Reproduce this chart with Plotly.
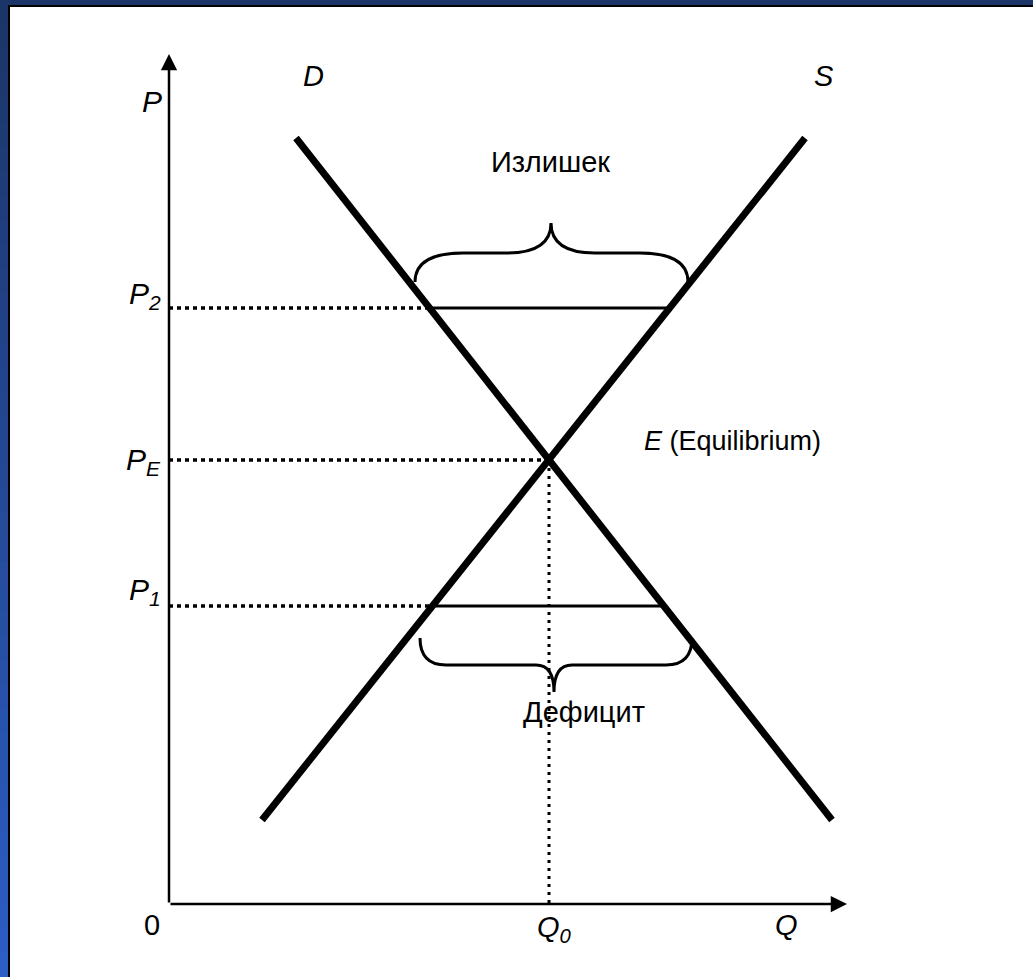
import plotly.graph_objects as go

# ── данные (условные единицы: Q — количество, P — цена) ─────────────
Q_MAX = 67.8          # конец оси Q (стрелка)
P_MAX = 85.0          # конец оси P (стрелка)

demand_q = [12.7, 66.3]
demand_p = [76.6, 8.4]
supply_q = [9.3, 63.6]
supply_p = [8.4, 76.6]

q0 = 38.0             # равновесное количество
pe = 44.4             # равновесная цена
p2 = 59.6             # цена выше равновесной
p1 = 29.8             # цена ниже равновесной

surplus_q = [26.1, 50.1]    # Qd, Qs при P2
shortage_q = [26.3, 49.6]   # Qs, Qd при P1

# фигурные скобки: левый край, правый край, острие, концы, средняя линия, вершина
surplus_brace = dict(q_left=24.6, q_right=51.9, q_tip=38.2, p_end=62.2, p_mid=65.1, p_tip=68.1)
shortage_brace = dict(q_left=25.1, q_right=52.3, q_tip=38.5, p_end=26.6, p_mid=23.9, p_tip=21.2)

FONT = 'Arial, "Liberation Sans", sans-serif'
BLACK = '#000000'

fig = go.Figure()

# кривые спроса и предложения
fig.add_trace(go.Scatter(x=demand_q, y=demand_p, mode='lines',
    line=dict(color=BLACK, width=7), hoverinfo='skip'))
fig.add_trace(go.Scatter(x=supply_q, y=supply_p, mode='lines',
    line=dict(color=BLACK, width=7), hoverinfo='skip'))

# пунктир к оси цены
for p, q_end in [(p2, surplus_q[0]), (pe, q0), (p1, shortage_q[0])]:
    fig.add_trace(go.Scatter(x=[0, q_end], y=[p, p], mode='lines',
        line=dict(color=BLACK, width=3.5, dash='4px,4px'), hoverinfo='skip'))
fig.add_trace(go.Scatter(x=[q0, q0], y=[pe, 0], mode='lines',
    line=dict(color=BLACK, width=3, dash='3px,5px'), hoverinfo='skip'))

# излишек и дефицит
fig.add_trace(go.Scatter(x=surplus_q, y=[p2, p2], mode='lines',
    line=dict(color=BLACK, width=3), hoverinfo='skip'))
fig.add_trace(go.Scatter(x=shortage_q, y=[p1, p1], mode='lines',
    line=dict(color=BLACK, width=3), hoverinfo='skip'))


def brace_path(b, d_end, d_tip):
    x0, x1, xt = b['q_left'], b['q_right'], b['q_tip']
    ye, ym, yt = b['p_end'], b['p_mid'], b['p_tip']
    return (f"M {x0},{ye} Q {x0},{ym} {x0 + d_end},{ym} L {xt - d_tip},{ym} "
            f"Q {xt},{ym} {xt},{yt} Q {xt},{ym} {xt + d_tip},{ym} "
            f"L {x1 - d_end},{ym} Q {x1},{ym} {x1},{ye}")


shapes = [
    dict(type='path', xref='x', yref='y', path=brace_path(surplus_brace, 4.8, 4.4),
         line=dict(color=BLACK, width=3)),
    dict(type='path', xref='x', yref='y', path=brace_path(shortage_brace, 2.6, 1.8),
         line=dict(color=BLACK, width=3)),
]

# синяя рамка слайда (градиент слева — перекрывающиеся полосы)
n = 40
for i in range(n):
    t = i / (n - 1)
    r = int(0x1c + (0x2d - 0x1c) * t)
    g = int(0x35 + (0x5e - 0x35) * t)
    bl = int(0x68 + (0xc4 - 0x68) * t)
    shapes.append(dict(type='rect', xref='paper', yref='paper', x0=0, x1=8 / 1033,
                       y0=0, y1=1 - i / n,
                       fillcolor=f'rgb({r},{g},{bl})', line_width=0, layer='above'))
shapes.append(dict(type='rect', xref='paper', yref='paper', x0=0, x1=1, y0=1 - 5 / 977, y1=1,
                   fillcolor='#1c3568', line_width=0, layer='above'))
shapes.append(dict(type='rect', xref='paper', yref='paper', x0=8 / 1033, x1=1,
                   y0=1 - 7 / 977, y1=1 - 5 / 977, fillcolor=BLACK, line_width=0, layer='above'))
shapes.append(dict(type='rect', xref='paper', yref='paper', x0=8 / 1033, x1=10 / 1033,
                   y0=0, y1=1 - 5 / 977, fillcolor=BLACK, line_width=0, layer='above'))

annotations = [
    # оси со стрелками
    dict(x=0, y=P_MAX, ax=0, ay=0, xref='x', yref='y', axref='x', ayref='y', text='',
         showarrow=True, arrowhead=2, arrowwidth=2.5, arrowsize=1.3, arrowcolor=BLACK),
    dict(x=Q_MAX, y=0, ax=0, ay=0, xref='x', yref='y', axref='x', ayref='y', text='',
         showarrow=True, arrowhead=2, arrowwidth=2.5, arrowsize=1.3, arrowcolor=BLACK),
]


def label(text, x, y, size=24, xanchor='center', yanchor='middle'):
    annotations.append(dict(x=x, y=y, xref='x', yref='y', text=text, showarrow=False,
                            xanchor=xanchor, yanchor=yanchor,
                            font=dict(family=FONT, size=size, color=BLACK)))


label('<i>P</i>', -1.7, 80.3, size=30)
label('<i>D</i>', 14.4, 82.8, size=29)
label('<i>S</i>', 65.5, 82.8, size=29)
label('Излишек', 38.1, 74.2, size=29)
label('<i>P<sub>2</sub></i>', -0.6, p2 + 1.3, size=30, xanchor='right')
label('<i>P<sub>E</sub></i>', -0.6, pe - 0.1, size=30, xanchor='right')
label('<i>P<sub>1</sub></i>', -0.6, p1 + 1.5, size=30, xanchor='right')
label('<i>E</i> (Equilibrium)', 47.3, 46.3, size=27, xanchor='left')
label('Дефицит', 41.5, 19.2, size=29)
label('0', -1.7, -2.1, size=29)
label('<i>Q<sub>0</sub></i>', q0 + 0.5, -2.5, size=29)
label('<i>Q</i>', 61.7, -2.1, size=29)

fig.update_layout(
    width=1033, height=977,
    margin=dict(l=0, r=0, t=0, b=0),
    paper_bgcolor='white', plot_bgcolor='white',
    showlegend=False,
    xaxis=dict(range=[-16.9, 86.4], visible=False, fixedrange=True),
    yaxis=dict(range=[-7.3, 90.4], visible=False, fixedrange=True),
    shapes=shapes,
    annotations=annotations,
)

# убрать стандартный отступ body и полосы прокрутки
fig.write_html("out.html", config={'displayModeBar': False},
               post_script="document.documentElement.style.overflow='hidden';"
                           "document.body.style.margin='0';document.body.style.overflow='hidden';"
                           "document.body.style.background='white';")
